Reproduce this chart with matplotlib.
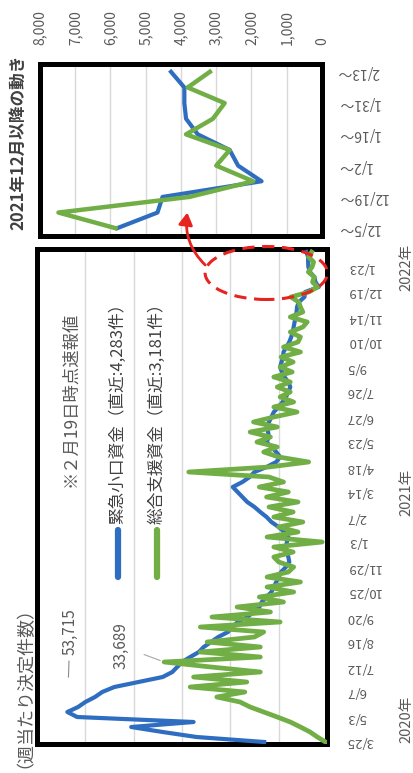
import matplotlib
matplotlib.use('Agg')
import matplotlib.pyplot as plt
from matplotlib.patches import Ellipse, ConnectionPatch
from matplotlib.lines import Line2D

plt.rcParams['font.family'] = ['Noto Sans CJK JP', 'DejaVu Sans']

# ---------------- data ----------------
# weekly decisions (index 0 = 2020/3/25 ... index 98 = 2022/2/13)
blue_kinkyu = [13000, 27000, 34000, 40500, 27600, 51700, 53715, 51500, 50000, 48000,
               46500, 44000, 39000, 34000, 32000, 31000, 30000, 28300, 26500, 25500,
               24000, 22500, 20500, 19500, 18500, 16500, 15200, 14000, 13500, 12500,
               11500, 11000, 10500, 10000, 9500, 8500, 7800, 8000, 8300, 8500,
               8300, 8000, 8800, 10000, 11500, 12500, 13800, 15000, 16500, 17500,
               18500, 19500, 17500, 16000, 15000, 12500, 10500, 9700, 10500, 11500,
               12500, 12000, 12200, 12500, 12000, 11500, 11000, 10000, 9200, 8500,
               8000, 7600, 8000, 8800, 9300, 9700, 9400, 9100, 9000, 8400,
               7800, 7400, 7100, 6900, 6700, 6500, 6300, 6200, 5810, 4667,
               4524, 1714, 2380, 2619, 3524, 3857, 3905, 3905, 4283]
green_sogo = [300, 2000, 3500, 5500, 7600, 10300, 13100, 15900, 18000, 22800,
              17000, 28300, 16600, 27600, 13800, 24000, 33689, 13800, 26200, 13800,
              24800, 15000, 13100, 26200, 9700, 23800, 11700, 18600, 9000, 14000,
              6900, 12400, 5500, 12400, 8000, 6900, 10000, 11000, 7000, 11000,
              1000, 12400, 6000, 10000, 5000, 11000, 7000, 12000, 6000, 12500,
              8000, 14000, 9000, 12000, 28600, 12000, 3800, 10000, 13100, 10300,
              14500, 11700, 15900, 10300, 15200, 11000, 6200, 11000, 6900, 9700,
              7600, 10300, 7600, 11000, 7200, 9700, 7000, 9500, 5500, 9000,
              6000, 5500, 7600, 5000, 4100, 7600, 5000, 5500, 5857, 7476,
              3762, 1952, 3000, 2619, 3857, 3095, 2762, 3810, 3181]

main_tick_labels = ['3/25', '5/3', '6/7', '7/12', '8/16', '9/20', '10/25', '11/29',
                    '1/3', '2/7', '3/14', '4/18', '5/23', '6/27', '7/26', '9/5',
                    '10/10', '11/14', '12/19', '1/23']
label_step = 5
year_labels = ['2020年', '2021年', '2022年']
year_pos = [4.5, 50, 95]

inset_count = 11
inset_tick_labels = ['12/5～', '12/19～', '1/2～', '1/16～', '1/31～', '2/13～']
inset_label_step = 2
inset_values = [0, 1000, 2000, 3000, 4000, 5000, 6000, 7000, 8000]
main_grid = [10000, 20000, 30000, 40000, 50000, 60000]

legend_names = ['緊急小口資金（直近:4,283件）', '総合支援資金（直近:3,181件）']
peak_blue = 53715
peak_green = 33689

# ---------------- style ----------------
W, H = 414, 773
BLUE = '#2E6DBF'
GREEN = '#71AE45'
TXT = '#595959'
GRID = '#D9D9D9'
RED = '#E8231F'


def fx(x):
    return x / W


def fy(y):
    return 1 - y / H


fig = plt.figure(figsize=(W / 100, H / 100), dpi=100)
fig.patch.set_facecolor('white')

# ---------------- main chart ----------------
ax = fig.add_axes([fx(37), fy(744), (327 - 37) / W, (744 - 249) / H])
idx = list(range(len(blue_kinkyu)))
ax.plot(blue_kinkyu, idx, color=BLUE, lw=3.0, solid_joinstyle='round', zorder=3)
ax.plot(green_sogo, idx, color=GREEN, lw=3.4, solid_joinstyle='round', zorder=4)
ax.set_xlim(60000, 0)
ax.set_ylim(-0.4, 98.6)
ax.set_xticks(main_grid)
ax.set_xticklabels([])
ax.tick_params(axis='x', length=0)
ax.grid(axis='x', color=GRID, lw=1.0)
ax.set_axisbelow(True)
ax.yaxis.tick_right()
ax.set_yticks(list(range(0, label_step * len(main_tick_labels), label_step)))
ax.set_yticklabels(main_tick_labels, rotation=180, ha='left', va='center',
                   fontsize=9.5, color=TXT)
ax.tick_params(axis='y', length=0, pad=14)
for s in ax.spines.values():
    s.set_linewidth(3.6)
    s.set_color('black')

# peak labels
ax.annotate(f'{peak_blue:,}', xy=(peak_blue, 6), xytext=(53200, 22), rotation=90,
            ha='center', va='center', fontsize=11, color=TXT,
            arrowprops=dict(arrowstyle='-', color='#8C8C8C', lw=0.8,
                            shrinkA=2, shrinkB=25))
ax.annotate(f'{peak_green:,}', xy=(peak_green, 16), xytext=(42600, 19.2), rotation=90,
            ha='center', va='center', fontsize=11, color=TXT,
            arrowprops=dict(arrowstyle='-', color='#A6A6A6', lw=0.8,
                            shrinkA=9, shrinkB=3))

# legend (drawn rotated)
for xp, col, name in zip([118, 157], [BLUE, GREEN], legend_names):
    fig.add_artist(Line2D([fx(xp), fx(xp)], [fy(577), fy(530)], color=col, lw=4.5,
                          solid_capstyle='round'))
    fig.text(fx(xp), fy(524), name, rotation=90, rotation_mode='anchor',
             ha='left', va='center', fontsize=12, color='#404040')

fig.text(fx(70), fy(487), '※２月19日時点速報値', rotation=90, rotation_mode='anchor',
         ha='left', va='center', fontsize=12.5, color=TXT)
fig.text(fx(16), fy(768), '（週当たり決定件数）', rotation=90, rotation_mode='anchor',
         ha='left', va='center', fontsize=13, color=TXT)

# year labels
for yl, yp in zip(year_labels, year_pos):
    yy = 742 - yp * 5.0
    fig.text(fx(406), fy(yy), yl, rotation=90, ha='center', va='center',
             fontsize=10.5, color=TXT)

# red dashed ellipse around the latest period
ell = Ellipse((12570, 93.8), width=25300, height=10.6, fill=False, edgecolor=RED,
              lw=2.2, ls=(0, (4, 2.5)), clip_on=False, zorder=6)
ax.add_patch(ell)

# ---------------- inset ----------------
axin = fig.add_axes([fx(40), fy(236), (322 - 40) / W, (236 - 64) / H])
iidx = list(range(inset_count))
axin.plot(blue_kinkyu[-inset_count:], iidx, color=BLUE, lw=3.0, zorder=3,
          solid_joinstyle='round')
axin.plot(green_sogo[-inset_count:], iidx, color=GREEN, lw=3.2, zorder=4,
          solid_joinstyle='round')
axin.set_xlim(8000, 0)
axin.set_ylim(-0.5, 10.5)
axin.xaxis.tick_top()
axin.set_xticks(inset_values)
axin.set_xticklabels([f'{v:,}' for v in inset_values], rotation=90, ha='center',
                     va='bottom', fontsize=10, color=TXT)
axin.tick_params(axis='x', length=0, pad=14)
axin.grid(axis='x', color=GRID, lw=1.0)
axin.set_axisbelow(True)
axin.yaxis.tick_right()
axin.set_yticks(list(range(0, inset_count, inset_label_step)))
axin.set_yticklabels(inset_tick_labels, rotation=180, ha='left', va='center',
                     fontsize=10, color=TXT)
axin.tick_params(axis='y', length=0, pad=11)
for s in axin.spines.values():
    s.set_linewidth(3.6)
    s.set_color('black')

fig.text(fx(18), fy(230), '2021年12月以降の動き', rotation=90, rotation_mode='anchor',
         ha='left', va='center', fontsize=12, fontweight='bold', color='#404040')

# red arrow from ellipse to inset
arr = ConnectionPatch(xyA=(25200, 95.4), coordsA=ax.transData,
                      xyB=(3820, 1.0), coordsB=axin.transData,
                      arrowstyle='-|>,head_length=0.6,head_width=0.35',
                      connectionstyle='arc3,rad=-0.25', color=RED, lw=2.0,
                      mutation_scale=12, zorder=7)
fig.add_artist(arr)

fig.savefig('out.png', dpi=100, facecolor='white')
